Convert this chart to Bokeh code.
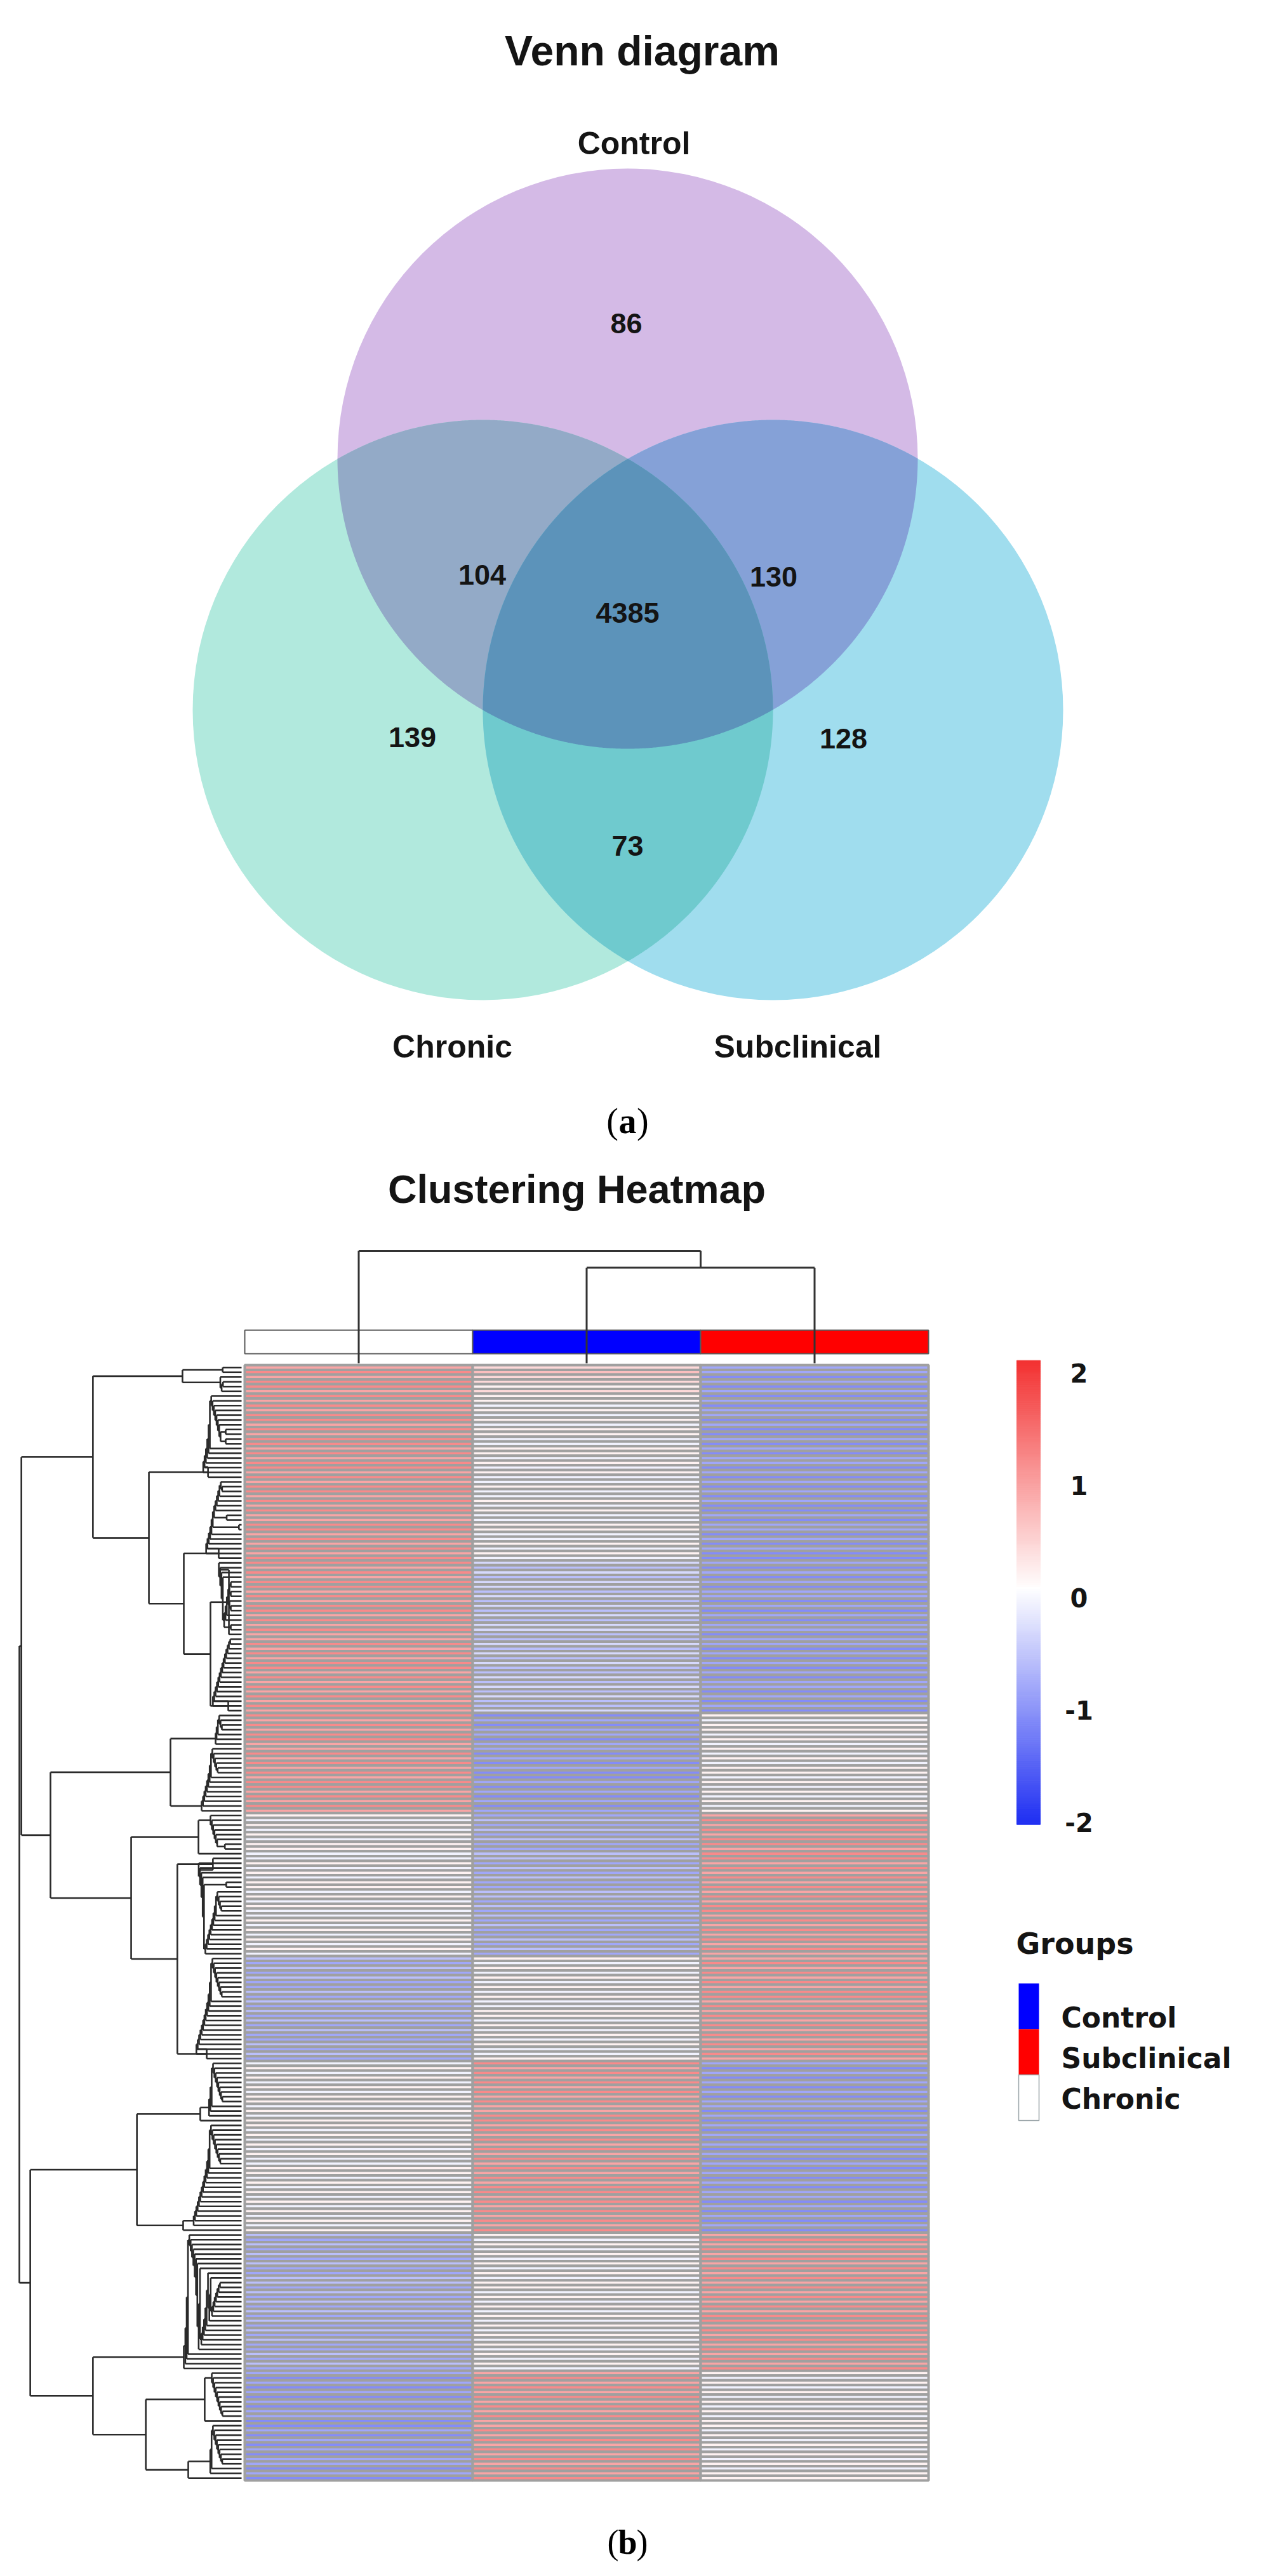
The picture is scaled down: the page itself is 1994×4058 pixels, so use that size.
import numpy as np
from bokeh.plotting import figure
from bokeh.models import Range1d, ColumnDataSource
from bokeh.core.properties import value
from bokeh.transform import linear_cmap
from bokeh.embed import file_html
from bokeh.resources import INLINE

# ============================ DATA ============================
# (a) Venn diagram
venn_title = "Venn diagram"
venn_sets = ["Control", "Chronic", "Subclinical"]
venn_set_colors = ["#D4BAE6", "#B1E9DD", "#A0DDEE"]
venn_regions = [("Control",), ("Control", "Chronic"), ("Control", "Subclinical"),
                ("Control", "Chronic", "Subclinical"), ("Chronic",), ("Subclinical",),
                ("Chronic", "Subclinical")]
venn_counts = [86, 104, 130, 4385, 139, 128, 73]

# (b) Clustering heatmap
heat_title = "Clustering Heatmap"
heat_columns = ["Chronic", "Control", "Subclinical"]
group_names = ["Control", "Subclinical", "Chronic"]
group_colors = ["#0000FF", "#FF0000", "#FFFFFF"]
col_tree = [1.00, "Chronic", [0.85, "Control", "Subclinical"]]

# row dendrogram: [height, left, right]; leaves are row groups
row_tree = [1.000,
            [0.991,
             [0.669, "T", [0.417, "E", [0.260, "F1", [0.140, "F2a", "F2b"]]]],
             [0.860, [0.320, "G1", "G2"], [0.497, "H1", [0.289, "H2a", "H2b"]]]],
            [0.951, [0.471, "C1a", "C1b"], [0.669, "C2a", [0.431, "C2b1", "C2b2"]]]]
group_tops = {"T": 0.266, "E": 0.151, "F1": 0.103, "F2a": 0.057, "F2b": 0.060,
              "G1": 0.117, "G2": 0.180, "H1": 0.194, "H2a": 0.129, "H2b": 0.157,
              "C1a": 0.186, "C1b": 0.263, "C2a": 0.260, "C2b1": 0.166, "C2b2": 0.240}
# row z-scores coded as levels 0..9 ; columns Chronic, Control, Subclinical
z_levels = [-1.15, -0.89, -0.64, -0.38, -0.13, 0.13, 0.38, 0.64, 0.89, 1.15]
row_groups = {
    "T":    ("898998", "676656", "110101"),
    "E":    ("989899898998989989", "554545455445545454", "010110100101011010"),
    "F1":   ("89989898899898989", "45445454455445454", "10101001011010100"),
    "F2a":  ("9898998989989898", "3232332323232332", "1010101101010110"),
    "F2b":  ("8989899898989898", "2323232232323223", "1101010101101010"),
    "G1":   ("9898998", "0101101", "5455454"),
    "G2":   ("89898989989898", "10101001010101", "54545545454545"),
    "H1":   ("545454554", "121212112", "898989989"),
    "H2a":  ("454545545454454545454", "212121122121212112121", "989898989899898989898"),
    "H2b":  ("2121211212121212112121", "5454545454455454545445", "8989898998989898989898"),
    "C1a":  ("4545454554545", "9898989898899", "1010101011010"),
    "C1b":  ("54545454455454545454545", "89898989898989989898989", "10101010101010110101010"),
    "C2a":  ("21212121122121212121212112121", "54545454545545454545454545454",
             "89898989898989898998989898989"),
    "C2b1": ("10101010110", "89898989898", "54545454545"),
    "C2b2": ("010101011010", "898989898989", "545454545455"),
}
cb_ticks = [2, 1, 0, -1, -2]
cb_labels = ["2", "1", "0", "-1", "-2"]
cb_min, cb_max = -2.1, 2.03
legend_title = "Groups"

# ============================ LAYOUT ============================
W, H = 1976, 4042
OX, OY = 8, 8
VENN_R = 457
VENN_C = {"Control": (996, 730), "Chronic": (768, 1126), "Subclinical": (1225, 1126)}
region_pos = [(994, 517), (767, 913), (1226, 916), (996, 973), (657, 1169), (1336, 1171), (996, 1340)]
set_label_pos = [(1006, 233), (720, 1656), (1264, 1656)]
HM_L, HM_R, HM_T, HM_B = 393, 1470, 2158, 3915
RD_LEAF, RD_ROOT = 388, 38
CD_BASE, CD_TOP = 2155, 1978
ANN_T, ANN_B = 2103, 2140
CB_L, CB_R, CB_2, CB_M2 = 1609, 1646, 2156, 2864

BOLD_SANS = value("Liberation Sans")
WIDE_SANS = value("DejaVu Sans")
SERIF = value("Liberation Serif")
INK = "#141414"

p = figure(frame_width=W, frame_height=H, output_backend="svg", toolbar_location=None,
           title=None, x_range=Range1d(OX, OX + W), y_range=Range1d(OY + H, OY),
           x_axis_type=None, y_axis_type=None, min_border=0)
p.grid.visible = False
p.outline_line_color = None
p.background_fill_color = "white"
p.border_fill_color = "white"


def lin_range(v0, pix0, v1, pix1, pix_start, pix_end):
    a = (pix1 - pix0) / (v1 - v0)
    return Range1d(start=v0 + (pix_start - pix0) / a, end=v0 + (pix_end - pix0) / a)


# ============================ VENN ============================
def hex2rgb(h):
    h = h.lstrip("#")
    return np.array([int(h[i:i + 2], 16) for i in (0, 2, 4)], float)


def multiply(cols):
    out = np.array([255.0, 255.0, 255.0])
    for c in cols:
        out = out * hex2rgb(c) / 255.0
    return "#%02x%02x%02x" % tuple(int(round(v)) for v in out)


def circle_xy(cx, cy, r, n=1440):
    t = np.linspace(0, 2 * np.pi, n, endpoint=False)
    return cx + r * np.cos(t), cy + r * np.sin(t)


def intersection(names):
    cs = [VENN_C[n] for n in names]
    xs, ys = [], []
    for i, (cx, cy) in enumerate(cs):
        x, y = circle_xy(cx, cy, VENN_R)
        m = np.ones(len(x), bool)
        for j, (dx, dy) in enumerate(cs):
            if j != i:
                m &= (x - dx) ** 2 + (y - dy) ** 2 <= (VENN_R + 0.5) ** 2
        xs.append(x[m]); ys.append(y[m])
    x = np.concatenate(xs); y = np.concatenate(ys)
    o = np.argsort(np.arctan2(y - y.mean(), x - x.mean()))
    return x[o].tolist(), y[o].tolist()


set_col = dict(zip(venn_sets, venn_set_colors))
for name in venn_sets:
    cx, cy = VENN_C[name]
    p.circle(x=[cx], y=[cy], radius=VENN_R, fill_color=set_col[name], line_color=None)
for reg in sorted([r for r in venn_regions if len(r) > 1], key=len):
    xs, ys = intersection(reg)
    p.patch(xs, ys, fill_color=multiply([set_col[n] for n in reg]), line_color=None)

p.text(x=[pp[0] for pp in region_pos], y=[pp[1] for pp in region_pos],
       text=[str(c) for c in venn_counts], text_font=BOLD_SANS, text_font_style="bold",
       text_font_size="45px", text_align="center", text_baseline="alphabetic", text_color=INK)
p.text(x=[pp[0] for pp in set_label_pos], y=[pp[1] for pp in set_label_pos], text=venn_sets,
       text_font=BOLD_SANS, text_font_style="bold", text_font_size="50px",
       text_align="center", text_baseline="alphabetic", text_color=INK)
p.text(x=[1019], y=[87], text=[venn_title], text_font=BOLD_SANS, text_font_style="bold",
       text_font_size="66px", text_align="center", text_baseline="alphabetic", text_color=INK)


def panel_tag(letter, cx, base, size):
    half = 0.26 * size
    p.text(x=[cx], y=[base], text=[letter], text_font=SERIF, text_font_style="bold",
           text_font_size="%dpx" % size, text_align="center", text_baseline="alphabetic",
           text_color="black")
    p.text(x=[cx - half], y=[base], text=["("], text_font=SERIF, text_font_size="%dpx" % size,
           text_align="right", text_baseline="alphabetic", text_color="black")
    p.text(x=[cx + half], y=[base], text=[")"], text_font=SERIF, text_font_size="%dpx" % size,
           text_align="left", text_baseline="alphabetic", text_color="black")


panel_tag("a", 996, 1773, 56)
panel_tag("b", 996, 4012, 54)

# ============================ HEATMAP ============================
all_rows = []


def build_group(name):
    cols = row_groups[name]
    vals = np.array([[z_levels[int(ch)] for ch in col] for col in cols]).T
    start = len(all_rows)
    all_rows.extend(vals.tolist())
    n = len(vals)
    D = np.sqrt(((vals[:, None, :] - vals[None, :, :]) ** 2).sum(-1))
    nodes = [{"h": 0.0, "y": start + i + 0.5, "mem": [i]} for i in range(n)]
    internal = []
    while len(nodes) > 1:
        best, bk = None, 0
        for k in range(len(nodes) - 1):
            d = D[np.ix_(nodes[k]["mem"], nodes[k + 1]["mem"])].mean()
            key = (round(d, 6), len(nodes[k]["mem"]) + len(nodes[k + 1]["mem"]))
            if best is None or key < best:
                best, bk = key, k
        a, b = nodes[bk], nodes[bk + 1]
        new = {"d": best[0], "y": (a["y"] + b["y"]) / 2, "kids": [a, b], "mem": a["mem"] + b["mem"]}
        internal.append(new)
        nodes[bk:bk + 2] = [new]
    root = nodes[0]
    top = group_tops[name]
    dmax = max(root.get("d", 0.0), 1e-9)
    for nd in internal:
        kid_h = max(k["h"] for k in nd["kids"])
        if nd is root:
            nd["h"] = top
        else:
            nd["h"] = max(min(top * 0.85, 0.012 + 0.065 * nd["d"] / dmax), kid_h + 0.006)
    return root


def build(node):
    if isinstance(node, str):
        return build_group(node)
    h, a, b = node
    na, nb = build(a), build(b)
    return {"h": h, "y": (na["y"] + nb["y"]) / 2, "kids": [na, nb]}


row_root = build(row_tree)
N = len(all_rows)
vals = np.array(all_rows)

p.extra_x_ranges = {"cols": lin_range(0, HM_L, 3, HM_R, OX, OX + W),
                    "rd": lin_range(0, RD_LEAF, 1, RD_ROOT, OX, OX + W)}
p.extra_y_ranges = {"rows": lin_range(0, HM_T, N, HM_B, OY + H, OY),
                    "ch": lin_range(0, CD_BASE, 1, CD_TOP, OY + H, OY),
                    "cb": lin_range(2, CB_2, -2, CB_M2, OY + H, OY)}


def ramp(anchors, n):
    rgb = np.array([hex2rgb(a) for a in anchors])
    pos = np.linspace(0, 1, len(anchors))
    t = np.linspace(0, 1, n)
    out = np.stack([np.interp(t, pos, rgb[:, k]) for k in range(3)], 1)
    return ["#%02x%02x%02x" % tuple(int(round(v)) for v in c) for c in out]


palette = ramp(["#1F2FF2", "#FFFFFF", "#F22B2B"], 255)
cmap = linear_cmap("v", palette, low=-2.1, high=2.1)

# heatmap cells
lefts, rights, tops, bottoms, vv = [], [], [], [], []
for r in range(N):
    for c in range(3):
        lefts.append(c); rights.append(c + 1); tops.append(r); bottoms.append(r + 1)
        vv.append(vals[r, c])
cell_src = ColumnDataSource(dict(left=lefts, right=rights, top=tops, bottom=bottoms, v=vv))
p.quad(left="left", right="right", top="top", bottom="bottom", source=cell_src,
       fill_color=cmap, line_color="#A0A0A0", line_width=4,
       x_range_name="cols", y_range_name="rows")

# row dendrogram
sx0, sy0, sx1, sy1 = [], [], [], []


def collect(nd):
    if "kids" not in nd:
        return
    a, b = nd["kids"]
    for k in (a, b):
        sx0.append(k["h"]); sy0.append(k["y"]); sx1.append(nd["h"]); sy1.append(k["y"])
        collect(k)
    sx0.append(nd["h"]); sy0.append(a["y"]); sx1.append(nd["h"]); sy1.append(b["y"])


collect(row_root)
p.segment(x0=sx0, y0=sy0, x1=sx1, y1=sy1, line_color="#2a2a2a", line_width=2.6,
          x_range_name="rd", y_range_name="rows")

# column annotation bar
p.quad(left=[0, 1, 2], right=[1, 2, 3], top=[ANN_T] * 3, bottom=[ANN_B] * 3,
       fill_color=[dict(zip(group_names, group_colors))[c] for c in heat_columns],
       line_color="#5a5a5a", line_width=2, x_range_name="cols")


# column dendrogram
def build_col(node):
    if isinstance(node, str):
        return {"h": 0.0, "y": heat_columns.index(node) + 0.5}
    h, a, b = node
    na, nb = build_col(a), build_col(b)
    return {"h": h, "y": (na["y"] + nb["y"]) / 2, "kids": [na, nb]}


sx0, sy0, sx1, sy1 = [], [], [], []
collect(build_col(col_tree))
p.segment(x0=sy0, y0=sx0, x1=sy1, y1=sx1, line_color="#333333", line_width=3,
          x_range_name="cols", y_range_name="ch")

p.text(x=[916], y=[1880], text=[heat_title], text_font=BOLD_SANS, text_font_style="bold",
       text_font_size="63px", text_align="center", text_baseline="alphabetic", text_color=INK)

# colour bar
nstep = 240
edges = np.linspace(cb_min, cb_max, nstep + 1)
cb_src = ColumnDataSource(dict(top=edges[1:].tolist(), bottom=edges[:-1].tolist(),
                               v=((edges[1:] + edges[:-1]) / 2).tolist()))
p.quad(left=CB_L, right=CB_R, top="top", bottom="bottom", source=cb_src,
       fill_color=cmap, line_color=cmap, line_width=1, y_range_name="cb")
cb_px = (CB_M2 - CB_2) / 4.0
p.text(x=[1707] * len(cb_ticks), y=[t - 14.5 / cb_px for t in cb_ticks], text=cb_labels,
       text_font=WIDE_SANS, text_font_style="bold", text_font_size="40px",
       text_align="center", text_baseline="alphabetic", text_color=INK, y_range_name="cb")

# group legend
p.text(x=[1608], y=[3069], text=[legend_title], text_font=WIDE_SANS, text_font_style="bold",
       text_font_size="46px", text_align="left", text_baseline="alphabetic", text_color=INK)
sw_top = [3132 + 72 * i for i in range(len(group_names))]
p.quad(left=1612, right=1644, top=sw_top, bottom=[t + 72 for t in sw_top],
       fill_color=group_colors, line_color=None)
p.quad(left=[1612], right=[1644], top=[sw_top[2]], bottom=[sw_top[2] + 72],
       fill_color=None, line_color="#9aa4a8", line_width=1.5)
p.text(x=[1679] * 3, y=[3186, 3250, 3314], text=group_names, text_font=WIDE_SANS,
       text_font_style="bold", text_font_size="44px", text_align="left",
       text_baseline="alphabetic", text_color=INK)

open("out.html", "w").write(file_html(p, INLINE))
